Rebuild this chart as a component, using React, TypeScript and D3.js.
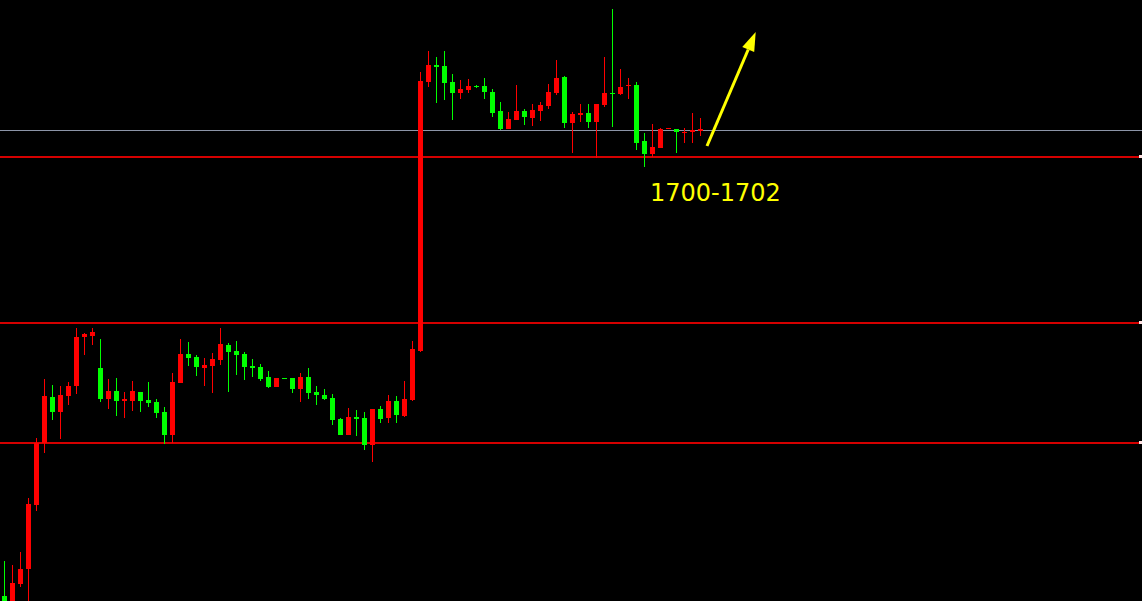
import React, { useEffect, useRef } from "react";
import * as d3 from "d3";

const W = 1142;
const H = 601;

// OHLC series (one bar per session), oldest first
const opens = [
  1657.1, 1656.2, 1658.3, 1659.8, 1666.2, 1672.4, 1677.0, 1675.5, 1677.1, 1678.1,
  1683.0, 1683.1, 1679.9, 1676.8, 1677.6, 1676.6, 1676.6, 1677.5, 1676.7, 1676.5,
  1675.5, 1673.2, 1678.4, 1681.3, 1681.0, 1679.9, 1680.1, 1680.7, 1682.2, 1681.6,
  1681.3, 1680.1, 1680.0, 1679.0, 1678.0, 1678.9, 1678.9, 1677.8, 1679.0, 1677.5,
  1677.2, 1676.9, 1674.8, 1673.2, 1675.0, 1674.9, 1672.2, 1675.8, 1674.9, 1676.6,
  1675.1, 1676.7, 1681.6, 1708.5, 1710.2, 1710.1, 1708.5, 1707.4, 1707.7, 1708.1,
  1708.1, 1707.5, 1705.6, 1703.8, 1704.7, 1705.6, 1704.9, 1705.6, 1706.1, 1707.4,
  1709.0, 1704.4, 1705.2, 1705.4, 1704.5, 1706.2, 1707.4, 1707.3, 1708.1, 1708.2,
  1702.6, 1701.3, 1701.9, 1703.8, 1703.8, 1703.4, 1703.5, 1703.6,
];
const highs = [
  1660.6, 1660.2, 1661.5, 1666.9, 1672.9, 1678.8, 1678.2, 1678.1, 1678.5, 1683.9,
  1683.4, 1683.9, 1682.8, 1678.8, 1678.9, 1677.5, 1678.6, 1677.5, 1678.5, 1676.8,
  1676.0, 1679.4, 1682.8, 1682.5, 1681.2, 1680.9, 1681.4, 1683.9, 1682.4, 1682.6,
  1681.5, 1680.8, 1680.3, 1679.6, 1678.9, 1678.9, 1678.9, 1679.4, 1679.9, 1678.1,
  1677.8, 1677.3, 1674.9, 1675.9, 1675.7, 1675.5, 1675.8, 1676.1, 1677.2, 1677.1,
  1678.6, 1682.6, 1709.5, 1711.6, 1711.0, 1711.6, 1709.3, 1708.7, 1708.8, 1708.2,
  1708.9, 1707.8, 1706.5, 1705.5, 1708.2, 1705.8, 1706.3, 1706.5, 1708.3, 1710.7,
  1709.1, 1705.5, 1706.3, 1706.3, 1706.3, 1711.0, 1715.8, 1709.8, 1708.9, 1708.5,
  1703.4, 1704.3, 1703.9, 1703.9, 1703.8, 1703.9, 1705.4, 1704.9,
];
const lows = [
  1655.7, 1655.9, 1658.0, 1656.2, 1665.6, 1671.4, 1674.7, 1672.8, 1676.2, 1677.3,
  1681.2, 1682.2, 1676.5, 1675.8, 1675.1, 1674.9, 1675.6, 1675.5, 1676.0, 1674.9,
  1672.3, 1672.4, 1678.4, 1680.1, 1679.1, 1678.1, 1677.4, 1680.2, 1677.5, 1679.2,
  1678.7, 1679.0, 1678.6, 1677.9, 1678.0, 1678.8, 1677.4, 1676.5, 1676.8, 1676.2,
  1676.7, 1674.2, 1673.2, 1673.2, 1673.1, 1671.7, 1670.5, 1674.4, 1674.4, 1674.4,
  1675.0, 1676.6, 1681.5, 1708.0, 1706.4, 1706.7, 1704.7, 1706.8, 1707.4, 1707.9,
  1706.8, 1705.0, 1703.7, 1703.8, 1704.7, 1704.2, 1704.1, 1704.6, 1705.8, 1707.2,
  1703.9, 1701.4, 1704.5, 1703.9, 1700.9, 1706.0, 1704.0, 1707.2, 1706.8, 1701.7,
  1700.0, 1701.0, 1701.9, 1703.8, 1701.4, 1702.4, 1702.4, 1703.1,
];
const closes = [
  1656.2, 1658.4, 1659.8, 1666.3, 1672.4, 1677.1, 1675.5, 1677.2, 1678.1, 1683.0,
  1683.3, 1683.5, 1676.8, 1677.6, 1676.6, 1676.8, 1677.6, 1676.6, 1676.4, 1675.4,
  1673.2, 1678.5, 1681.3, 1680.9, 1680.0, 1680.2, 1680.8, 1682.3, 1681.5, 1681.2,
  1680.0, 1679.9, 1678.8, 1678.0, 1678.9, 1678.8, 1677.8, 1679.0, 1677.4, 1677.2,
  1676.8, 1674.7, 1673.2, 1675.0, 1674.8, 1672.2, 1675.8, 1674.8, 1676.6, 1675.2,
  1676.8, 1681.8, 1708.6, 1710.2, 1710.0, 1708.4, 1707.4, 1707.8, 1708.1, 1708.0,
  1707.5, 1705.4, 1703.8, 1704.8, 1705.6, 1705.0, 1705.7, 1706.2, 1707.5, 1708.9,
  1704.4, 1705.3, 1705.4, 1704.5, 1706.3, 1707.4, 1707.3, 1708.0, 1708.2, 1702.4,
  1701.3, 1702.0, 1703.8, 1703.9, 1703.5, 1703.5, 1703.7, 1703.8,
];

// Horizontal support / resistance levels
const supportLevels = [1701.0, 1684.4, 1672.4];
const currentPrice = 1703.7;
const targetLabel = "1700-1702";

const UP = "#ff0000";
const DOWN = "#00ff00";

export default function App() {
  const ref = useRef<SVGSVGElement | null>(null);

  useEffect(() => {
    const svg = d3.select(ref.current);
    svg.selectAll("*").remove();

    const bars = opens.map((o, i) => ({
      i,
      o,
      h: highs[i],
      l: lows[i],
      c: closes[i],
    }));

    const x = d3
      .scaleLinear()
      .domain([0, bars.length - 1])
      .range([4.5, 4.5 + 8 * (bars.length - 1)]);
    const y = d3.scaleLinear().domain([1656.6, 1716.7]).range([H, 0]);
    const crisp = (v: number) => Math.round(v) + 0.5;

    svg
      .append("rect")
      .attr("width", W)
      .attr("height", H)
      .attr("fill", "#000000");

    // current price line
    svg
      .append("line")
      .attr("x1", 0)
      .attr("x2", W)
      .attr("y1", crisp(y(currentPrice)))
      .attr("y2", crisp(y(currentPrice)))
      .attr("stroke", "#8c95a8")
      .attr("stroke-width", 1);

    // level lines
    const lv = svg.append("g");
    lv.selectAll("rect.level")
      .data(supportLevels)
      .join("rect")
      .attr("class", "level")
      .attr("x", 0)
      .attr("width", W)
      .attr("y", (d) => Math.round(y(d)) - 1)
      .attr("height", 2)
      .attr("fill", "#d40000");
    lv.selectAll("rect.marker")
      .data(supportLevels)
      .join("rect")
      .attr("class", "marker")
      .attr("x", W - 3)
      .attr("y", (d) => Math.round(y(d)) - 2)
      .attr("width", 3)
      .attr("height", 3)
      .attr("fill", "#ffe0e0");

    // candles
    const g = svg.append("g");
    const candle = g
      .selectAll("g")
      .data(bars)
      .join("g")
      .attr("fill", (d) => (d.c >= d.o ? UP : DOWN))
      .attr("stroke", (d) => (d.c >= d.o ? UP : DOWN));

    candle
      .append("line")
      .attr("x1", (d) => x(d.i))
      .attr("x2", (d) => x(d.i))
      .attr("y1", (d) => Math.round(y(d.h)))
      .attr("y2", (d) => Math.round(y(d.l)))
      .attr("stroke-width", 1);

    candle
      .append("rect")
      .attr("stroke", "none")
      .attr("x", (d) => x(d.i) - 2.5)
      .attr("width", 5)
      .attr("y", (d) => Math.round(y(Math.max(d.o, d.c))))
      .attr("height", (d) =>
        Math.max(1, Math.round(y(Math.min(d.o, d.c))) - Math.round(y(Math.max(d.o, d.c))))
      );

    // target arrow
    const last = bars[bars.length - 1];
    const ax0 = x(last.i) + 6.5;
    const ay0 = y(currentPrice) + 16;
    const tip: [number, number] = [755.7, 32];
    const ang = Math.atan2(tip[1] - ay0, tip[0] - ax0);
    const headLen = 19;
    const headHalf = 6.5;
    const bx = tip[0] - headLen * Math.cos(ang);
    const by = tip[1] - headLen * Math.sin(ang);
    svg
      .append("line")
      .attr("x1", ax0)
      .attr("y1", ay0)
      .attr("x2", bx)
      .attr("y2", by)
      .attr("stroke", "#ffff00")
      .attr("stroke-width", 3);
    const px = -Math.sin(ang);
    const py = Math.cos(ang);
    svg
      .append("polygon")
      .attr(
        "points",
        [
          tip,
          [bx + px * headHalf, by + py * headHalf],
          [bx - px * headHalf, by - py * headHalf],
        ]
          .map((p) => p.join(","))
          .join(" ")
      )
      .attr("fill", "#ffff00");

    svg
      .append("text")
      .attr("x", 650)
      .attr("y", 201)
      .attr("fill", "#ffff00")
      .attr("font-family", "'DejaVu Sans', sans-serif")
      .attr("font-size", 24)
      .text(targetLabel);
  }, []);

  return (
    <svg
      ref={ref}
      width={W}
      height={H}
      style={{ position: "fixed", left: 0, top: 0, display: "block" }}
    />
  );
}
